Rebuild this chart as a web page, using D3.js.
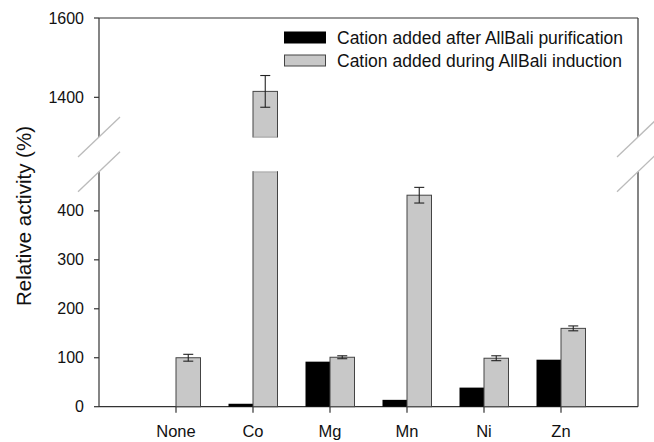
<!DOCTYPE html>
<html>
<head>
<meta charset="utf-8">
<script src="https://cdn.jsdelivr.net/npm/d3@7"></script>
<style>
  body { margin: 0; background: #fff; }
  text { font-family: "Liberation Sans", Arial, sans-serif; }
</style>
</head>
<body>
<div id="canvas"></div>
<script>
var w = 654;
var h = 442;

var cations = ["None", "Co", "Mg", "Mn", "Ni", "Zn"];
var afterPurif = [0, 6, 92, 14, 39, 96];
var duringInduct = [100, 1415, 101, 432, 99, 160];
var duringErr = [7, 40, 3, 16, 5, 5];
var seriesNames = ["Cation added after AllBali purification", "Cation added during AllBali induction"];
var lowTicks = [0, 100, 200, 300, 400];
var highTicks = [1400, 1600];

var left = 99, right = 638;
var barW = 24.5;

var svg = d3.select("#canvas")
    .append("svg")
    .attr("width", w)
    .attr("height", h);

var xScale = d3.scalePoint()
    .domain(cations)
    .range([left, right])
    .padding(1);

// two pieces of the broken y axis
var yLow = d3.scaleLinear()
    .domain([0, 480])
    .range([406.7, 171.7]);

var yHigh = d3.scaleLinear()
    .domain([1300, 1600])
    .range([137, 18]);

var axisColor = "#333";

// frame lines
svg.append("line").attr("x1", left).attr("x2", right).attr("y1", 18).attr("y2", 18)
    .attr("stroke", axisColor).attr("stroke-width", 1.2);
svg.append("line").attr("x1", left).attr("x2", right).attr("y1", yLow(0)).attr("y2", yLow(0))
    .attr("stroke", axisColor).attr("stroke-width", 1.2);
[left, right].forEach(function (x) {
    svg.append("line").attr("x1", x).attr("x2", x).attr("y1", yHigh(1600)).attr("y2", yHigh(1300))
        .attr("stroke", axisColor).attr("stroke-width", 1.2);
    svg.append("line").attr("x1", x).attr("x2", x).attr("y1", yLow(480)).attr("y2", yLow(0))
        .attr("stroke", axisColor).attr("stroke-width", 1.2);
});

// break marks
[left, right].forEach(function (x) {
    [yHigh(1300), yLow(480)].forEach(function (y) {
        svg.append("line")
            .attr("x1", x - 21).attr("y1", y + 20)
            .attr("x2", x + 21).attr("y2", y - 20)
            .attr("stroke", "#bbb").attr("stroke-width", 1.3);
    });
});

// y ticks
function yTicks(scale, ticks) {
    ticks.forEach(function (t) {
        svg.append("line").attr("x1", left - 5).attr("x2", left).attr("y1", scale(t)).attr("y2", scale(t))
            .attr("stroke", axisColor).attr("stroke-width", 1.2);
        svg.append("text")
            .attr("x", left - 15).attr("y", scale(t))
            .attr("dy", "0.35em")
            .attr("text-anchor", "end")
            .attr("font-size", "16px")
            .attr("fill", "#111")
            .text(t);
    });
}
yTicks(yLow, lowTicks);
yTicks(yHigh, highTicks);

// x ticks
svg.selectAll(".xtick")
    .data(cations)
    .join("line")
    .attr("class", "xtick")
    .attr("x1", function (d) { return xScale(d); })
    .attr("x2", function (d) { return xScale(d); })
    .attr("y1", yLow(0))
    .attr("y2", yLow(0) + 6)
    .attr("stroke", axisColor).attr("stroke-width", 1.2);

svg.selectAll(".xlabel")
    .data(cations)
    .join("text")
    .attr("class", "xlabel")
    .attr("x", function (d) { return xScale(d); })
    .attr("y", 437)
    .attr("text-anchor", "middle")
    .attr("font-size", "16.5px")
    .attr("fill", "#111")
    .text(function (d) { return d; });

// axis title
svg.append("text")
    .attr("transform", "translate(31,216) rotate(-90)")
    .attr("text-anchor", "middle")
    .attr("font-size", "20.5px")
    .attr("fill", "#111")
    .text("Relative activity (%)");

// black bars
svg.selectAll(".bar1")
    .data(afterPurif)
    .join("rect")
    .attr("class", "bar1")
    .attr("x", function (d, i) { return xScale(cations[i]) - barW; })
    .attr("y", function (d) { return yLow(d); })
    .attr("width", barW)
    .attr("height", function (d) { return yLow(0) - yLow(d); })
    .attr("fill", "#000");

// gray bars (split across the break)
var grayFill = "#c8c8c8", grayStroke = "#444";
duringInduct.forEach(function (v, i) {
    var x = xScale(cations[i]);
    if (v <= 480) {
        svg.append("rect").attr("x", x).attr("y", yLow(v)).attr("width", barW)
            .attr("height", yLow(0) - yLow(v))
            .attr("fill", grayFill).attr("stroke", grayStroke).attr("stroke-width", 1);
    } else {
        svg.append("rect").attr("x", x).attr("y", yLow(480)).attr("width", barW)
            .attr("height", yLow(0) - yLow(480))
            .attr("fill", grayFill).attr("stroke", grayStroke).attr("stroke-width", 1);
        svg.append("rect").attr("x", x).attr("y", yHigh(v)).attr("width", barW)
            .attr("height", yHigh(1300) - yHigh(v))
            .attr("fill", grayFill).attr("stroke", grayStroke).attr("stroke-width", 1);
        // hide strokes at cut edges
        svg.append("line").attr("x1", x + 0.5).attr("x2", x + barW - 0.5)
            .attr("y1", yHigh(1300)).attr("y2", yHigh(1300)).attr("stroke", grayFill).attr("stroke-width", 1.5);
        svg.append("line").attr("x1", x + 0.5).attr("x2", x + barW - 0.5)
            .attr("y1", yLow(480)).attr("y2", yLow(480)).attr("stroke", grayFill).attr("stroke-width", 1.5);
    }
    // error bars
    var sc = v > 480 ? yHigh : yLow;
    var cx = x + barW / 2;
    var e = duringErr[i];
    var g = svg.append("g").attr("stroke", "#222").attr("stroke-width", 1.1);
    g.append("line").attr("x1", cx).attr("x2", cx).attr("y1", sc(v + e)).attr("y2", sc(v - e));
    g.append("line").attr("x1", cx - 5).attr("x2", cx + 5).attr("y1", sc(v + e)).attr("y2", sc(v + e));
    g.append("line").attr("x1", cx - 5).attr("x2", cx + 5).attr("y1", sc(v - e)).attr("y2", sc(v - e));
});

// legend
var legFills = ["#000", grayFill];
seriesNames.forEach(function (name, i) {
    var y = 32 + i * 23;
    svg.append("rect").attr("x", 284.5).attr("y", y).attr("width", 41).attr("height", 11)
        .attr("fill", legFills[i]).attr("stroke", i == 0 ? "#000" : grayStroke).attr("stroke-width", 1);
    svg.append("text")
        .attr("x", 337).attr("y", y + 5.5)
        .attr("dy", "0.35em")
        .attr("font-size", "17.5px")
        .attr("fill", "#111")
        .text(name);
});
</script>
</body>
</html>
